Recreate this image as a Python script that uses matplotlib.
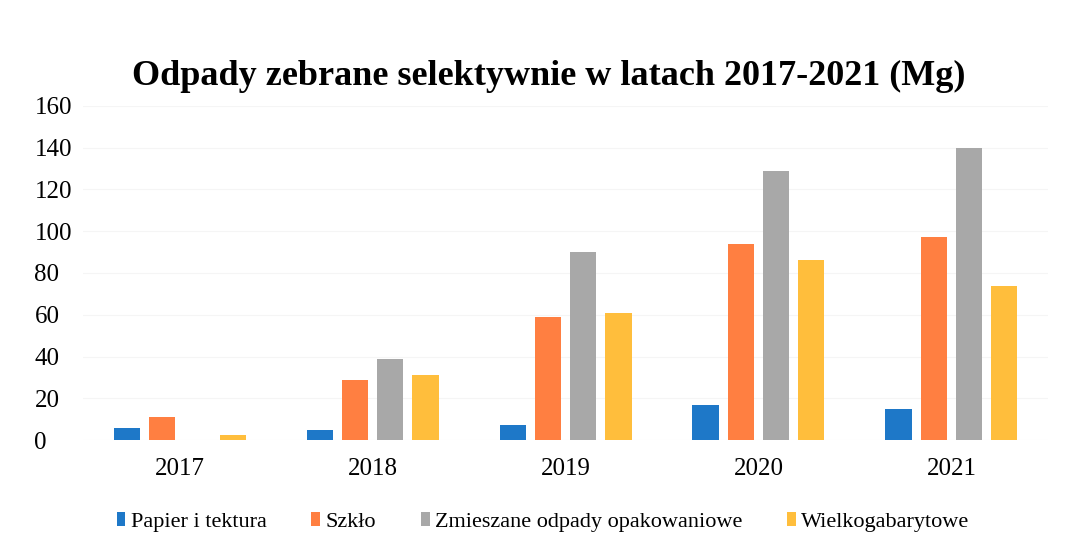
import matplotlib.pyplot as plt
import numpy as np

years = ['2017', '2018', '2019', '2020', '2021']
papier = [6, 5, 7, 17, 15]
szklo = [11, 29, 59, 94, 97]
zmieszane = [0, 39, 90, 129, 140]
wielko = [2.5, 31, 61, 86, 74]

series = [
    ('Papier i tektura', papier, '#1E78C8'),
    ('Szkło', szklo, '#FF7F41'),
    ('Zmieszane odpady opakowaniowe', zmieszane, '#A8A8A8'),
    ('Wielkogabarytowe', wielko, '#FFBE3C'),
]

plt.rcParams['font.family'] = ['Liberation Serif', 'DejaVu Serif']

fig = plt.figure(figsize=(10.65, 5.4), dpi=100)
ax = fig.add_axes([0.078, 0.185, 0.906, 0.619])

x = np.arange(len(years))
pitch = 0.183
width = 0.135
for i, (name, vals, col) in enumerate(series):
    ax.bar(x + (i - 1.5) * pitch, vals, width, color=col, label=name, zorder=2)

ax.set_ylim(0, 160)
ax.set_xlim(-0.5, len(years) - 0.5)
ax.set_yticks(range(0, 161, 20))
ax.set_xticks(x)
ax.set_xticklabels(years)
ax.tick_params(axis='both', length=0, labelsize=18)
ax.tick_params(axis='x', pad=13)
ax.tick_params(axis='y', pad=35)
for lab in ax.get_yticklabels():
    lab.set_horizontalalignment('left')
ax.grid(axis='y', color='#F5F5F5', linewidth=0.8, zorder=0)
for s in ax.spines.values():
    s.set_visible(False)

fig.text(0.515, 0.858, 'Odpady zebrane selektywnie w latach 2017-2021 (Mg)',
         ha='center', va='center', fontsize=26, fontweight='bold')

fig.legend(loc='lower center', bbox_to_anchor=(0.51, -0.022), ncol=4,
           frameon=False, fontsize=16, handlelength=0.4, handleheight=0.6,
           handletextpad=0.25, columnspacing=2.0)

fig.savefig('out.png', dpi=100, facecolor='white')
